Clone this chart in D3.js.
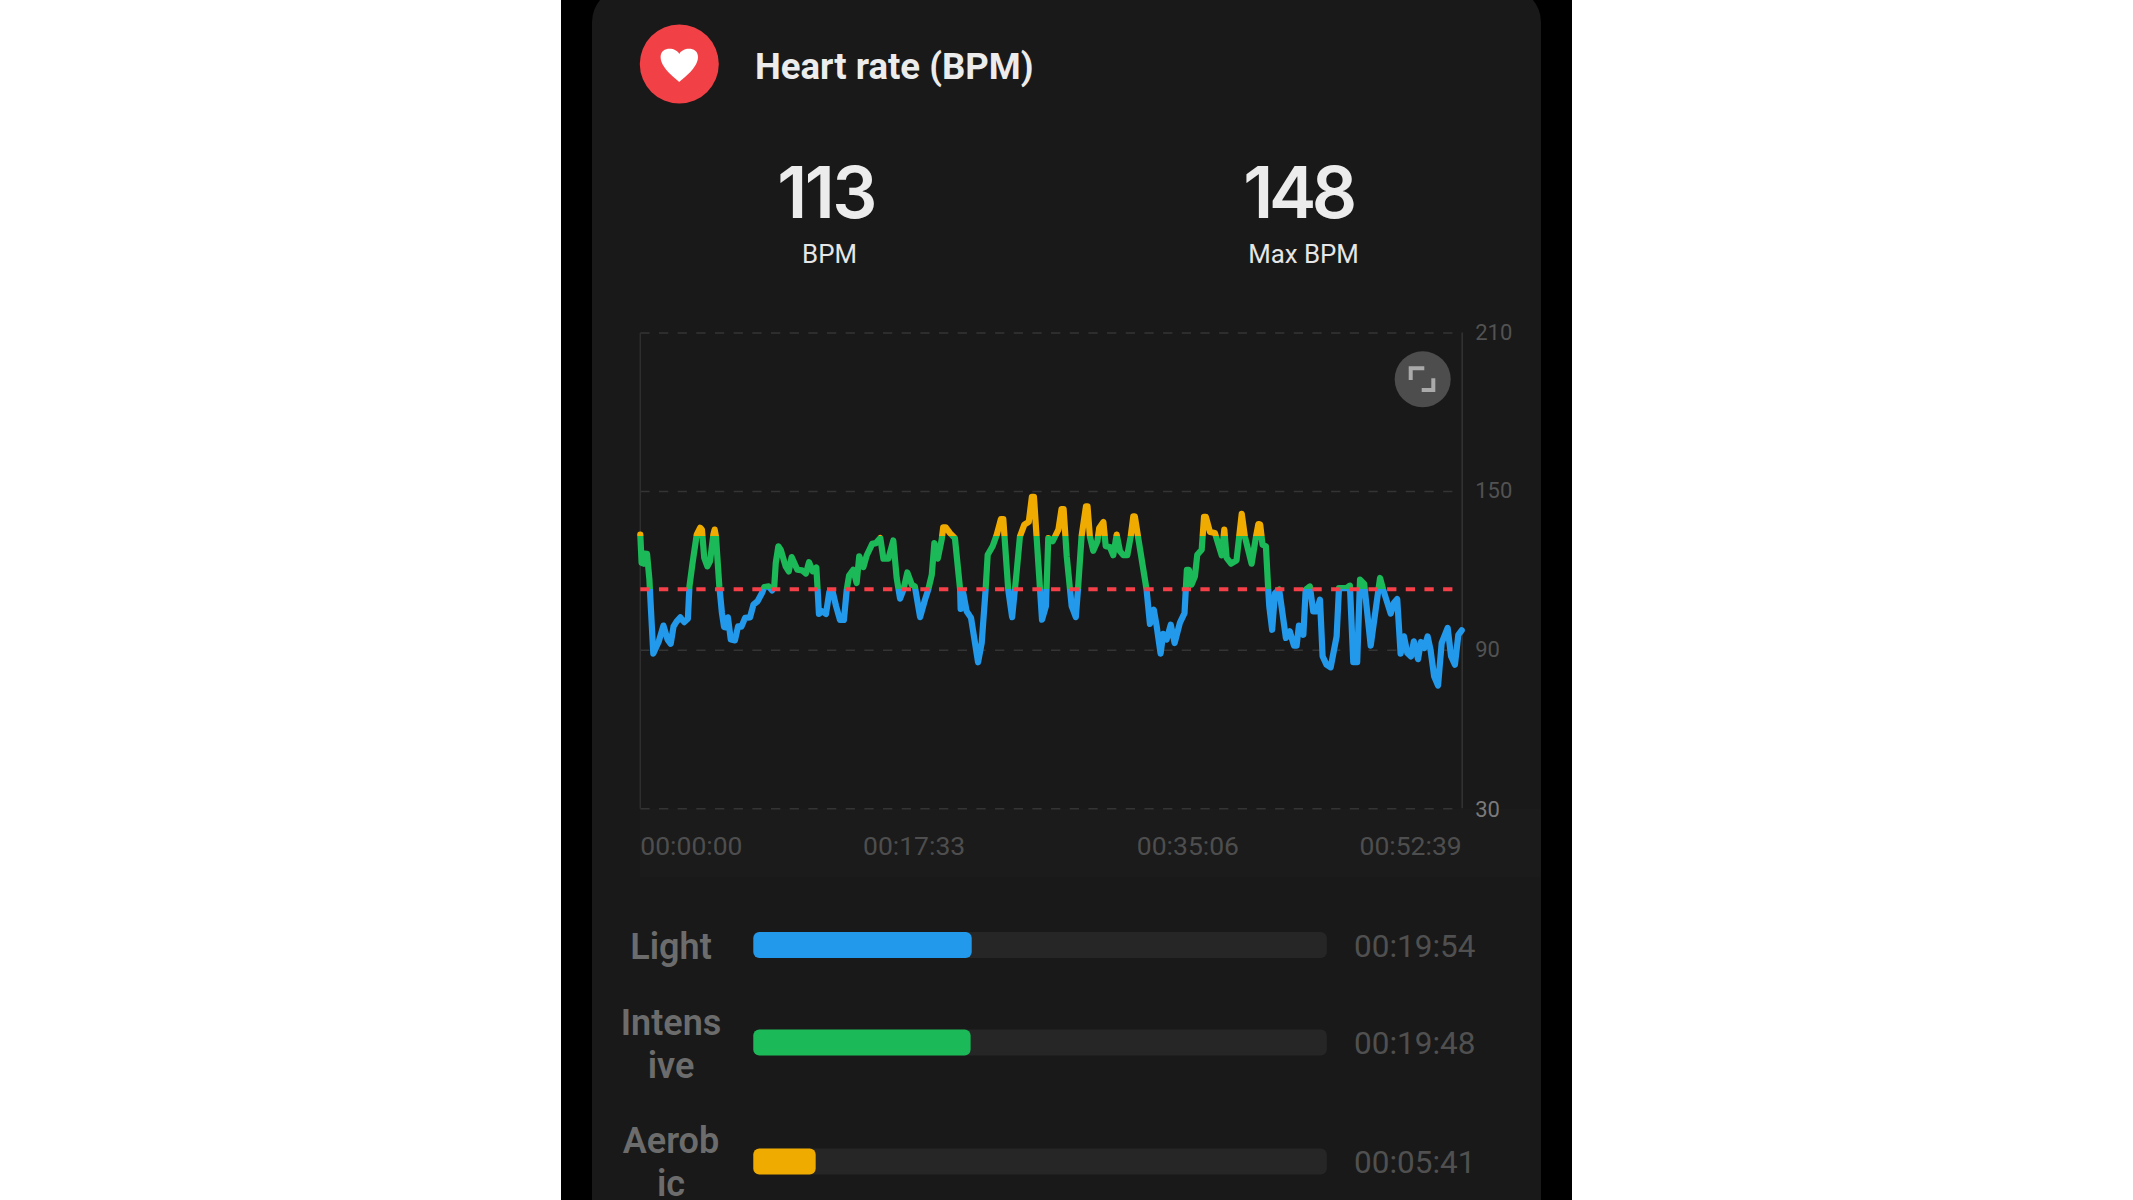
<!DOCTYPE html>
<html>
<head>
<meta charset="utf-8">
<title>Heart rate (BPM)</title>
<script src="https://cdn.jsdelivr.net/npm/d3@7"></script>
<style>
	html, body { margin: 0; padding: 0; background: #fff; }
	svg { display: block; font-family: Roboto, sans-serif; }
</style>
</head>
<body>
<svg id="chart" width="2133" height="1200"></svg>
<script>
// elapsed time of each reading, seconds
var times = [0,5,13,16,26,35,41,50,71,89,105,117,128,140,154,169,183,189,201,217,230,237,246,258,268,281,286,291,304,314,322,330,337,348,364,376,389,403,422,435,451,468,477,494,507,515,521,531,540,559,571,582,604,622,637,649,663,677,682,687,699,714,727,740,753,768,783,
	794,803,819,832,842,858,871,892,906,923,935,954,973,986,999,1012,1027,1044,1056,1076,1095,1108,1121,1131,1144,1159,1165,1174,1191,1210,1230,1232,1242,1255,1272,1299,1313,1328,1336,1355,1371,1387,1396,1415,1430,1447,1460,1477,1494,1506,1514,1524,1545,
	1560,1569,1586,1595,1608,1620,1628,1640,1659,1675,1684,1697,1714,1720,1729,1742,1758,1765,1781,1790,1806,1819,1832,1845,1858,1873,1886,1896,1902,1915,1947,1960,1975,1986,2001,2011,2024,2040,2055,2075,2093,2102,2110,2120,2133,2142,2159,2168,2175,2191,2210,2236,2246,2255,2272,2293,2313,
	2325,2351,2368,2377,2384,2393,2406,2415,2419,2430,2441,2457,2483,2498,2514,2524,2533,2550,2559,2575,2588,2601,2614,2624,2639,2655,2678,2687,2716,2729,2742,2757,2768,2784,2809,2845,2857,2886,2898,2911,2924,2937,2950,2964,2975,2991,3002,3015,3028,3039,3053,3068,3082,3105,3118,3133,3146,3159];

// bpm
var bpm = [133.7,123,122.7,126.5,126.4,116.7,105.3,88.7,93.3,99.3,94,92.4,99,100.9,102.4,100.6,101.9,114.1,123,133.7,136.3,135.6,124.9,121.7,123.6,133.7,135.6,133,114.1,104,98.8,98.6,102.4,94,93.7,99,98.9,102.2,102.4,107.2,108.5,111.6,113.9,114.1,112.6,113.9,123,129.3,128,121.7,119.8,125.2,120.4,120.2,119,123.3,119.8,121.3,112.9,103.7,104.7,103.7,112,112,106.6,101.4,101.4,
	112.9,118.2,120.4,115.4,125.5,121.4,125.9,130.2,130.5,132.4,124.6,124.6,131.5,117.3,109.5,112.9,119.4,114.8,114.1,102.5,109.1,113.1,118.5,130.5,124.6,131.8,136.5,136.5,134.3,132.4,112.9,105.6,111.6,104.7,102.2,85.4,92.7,112.9,126.1,129.3,133.7,139.6,139.6,112.9,102.5,119.2,133,137.5,138.5,148,148,133,101.5,
	106.6,132.4,131.2,133,135.6,143.4,143.4,125.5,106.6,102.5,114.1,133,144.4,144.4,133,127.6,131.2,136.2,138.5,129.3,129,125.9,133.7,127.4,125.9,125.9,133,140.6,140.6,132.4,112.9,99.9,105.3,99,88.7,96.2,94,99.6,92.7,100.3,104,120.4,120.4,114.8,117.9,126.1,128,140.4,140.4,134.7,134.3,125.9,135.6,124.9,122.7,124,141.6,
	133,122.7,133,137.7,137.5,129.9,129.3,112.9,106.6,97.7,111.6,112.9,94.6,97.1,91.7,91.7,99.3,95.8,112.9,114.1,104.7,104.7,109.1,87.7,84.5,83.5,95.2,113.5,113.5,114.4,85.5,85.5,116.7,115.1,91.7,117.3,112.9,103.8,107.8,109.3,88.7,95.2,88.9,87.6,93.3,86.6,93.1,90.8,95.2,90.2,80.1,76.6,92.7,98.4,87.7,84.5,95.8,97.5];

var yTicks = [30, 90, 150, 210];
var xTicks = [0, 1053, 2106, 3159];
var avgBpm = 113;
var maxBpm = 148;
var zoneLimit = 133;   // line turns yellow above this, blue is below the average

var zoneLabels = [["Light"], ["Intens", "ive"], ["Aerob", "ic"]];
var zoneSeconds = [1194, 1188, 341];
var zoneTimes = ["00:19:54", "00:19:48", "00:05:41"];

var BLUE = "#2299ea", GREEN = "#1bb957", YELLOW = "#f0ab00", RED = "#f5404a";

var svg = d3.select("#chart");

// phone frame + card
svg.append("rect").attr("x", 561).attr("y", 0).attr("width", 1011).attr("height", 1200).attr("fill", "#000");
svg.append("rect").attr("x", 592).attr("y", -12).attr("width", 949).attr("height", 1300).attr("rx", 34).attr("fill", "#191919");
svg.append("rect").attr("x", 640).attr("y", 809).attr("width", 901).attr("height", 68).attr("fill", "#1b1b1b");

// header
svg.append("circle").attr("cx", 679.3).attr("cy", 64).attr("r", 39.5).attr("fill", "#f24146");
svg.append("path")
	.attr("transform", "translate(679.3,50)")
	.attr("d", "M0,32 C-4,28 -18.7,18 -18.7,7 C-18.7,-4 -3,-3 0,4 C3,-3 18.7,-4 18.7,7 C18.7,18 4,28 0,32 Z")
	.attr("fill", "#fff");
svg.append("text").attr("x", 755).attr("y", 79).attr("font-size", 36.5).attr("font-weight", 700).attr("fill", "#ececec").text("Heart rate (BPM)");

// summary numbers
function stat(cx, value, spacing, label, labelCx) {
	svg.append("text").attr("x", cx).attr("y", 218).attr("text-anchor", "middle")
		.attr("font-family", "Inter, Roboto, sans-serif").attr("letter-spacing", spacing)
		.attr("font-size", 71).attr("font-weight", 600).attr("fill", "#ececec").text(value);
	svg.append("text").attr("x", labelCx).attr("y", 262.5).attr("text-anchor", "middle")
		.attr("font-size", 25.8).attr("fill", "#e6e6e6").text(label);
}
stat(826, avgBpm, -2.5, "BPM", 829.5);
stat(1298, maxBpm, -4.5, "Max BPM", 1303.5);

// chart
var x = d3.scaleLinear().domain([0, 3159]).range([640.3, 1461.7]);
var y = d3.scaleLinear().domain([30, 210]).range([808.7, 333]);

function clock(s) {
	var h = Math.floor(s / 3600), m = Math.floor(s / 60) % 60, sec = s % 60;
	return [h, m, sec].map(d3.format("02d")).join(":");
}

svg.append("g").selectAll("line").data(yTicks).join("line")
	.attr("x1", x(0)).attr("x2", 1454)
	.attr("y1", function(d) { return y(d); }).attr("y2", function(d) { return y(d); })
	.attr("stroke", "#343434").attr("stroke-width", 1.5).attr("stroke-dasharray", "9.3 9.37");

svg.append("line").attr("x1", x(0)).attr("x2", x(0)).attr("y1", y(210)).attr("y2", y(30))
	.attr("stroke", "#2e2e2e").attr("stroke-width", 1.5);

var yAxis = svg.append("g").attr("transform", "translate(" + x(3159) + ",-1)")
	.call(d3.axisRight(y).tickValues(yTicks).tickSize(0).tickPadding(13.5));
yAxis.select(".domain").attr("stroke", "#333").attr("stroke-width", 1.5);
yAxis.selectAll("text").attr("font-family", "Roboto, sans-serif").attr("font-size", 22)
	.attr("dy", function(d) { return d == 30 ? "0.38em" : "0.32em"; })
	.attr("fill", function(d) { return d == 30 ? "#7a7a7a" : "#525252"; });

var xAxis = svg.append("g").attr("transform", "translate(-0.5,836)")
	.call(d3.axisBottom(x).tickValues(xTicks).tickFormat(clock).tickSize(0).tickPadding(0));
xAxis.select(".domain").remove();
xAxis.selectAll("text").attr("font-family", "Roboto, sans-serif").attr("font-size", 26.5).attr("fill", "#4e4e4e")
	.attr("text-anchor", function(d, i) { return i == 0 ? "start" : (i == xTicks.length - 1 ? "end" : "middle"); });

// line colour follows the heart rate zone
var defs = svg.append("defs");
var grad = defs.append("linearGradient").attr("id", "zones")
	.attr("gradientUnits", "userSpaceOnUse")
	.attr("x1", 0).attr("x2", 0).attr("y1", y(210)).attr("y2", y(30));
var stop1 = (210 - zoneLimit) / 180, stop2 = (210 - avgBpm) / 180;
[[0, YELLOW], [stop1, YELLOW], [stop1, GREEN], [stop2, GREEN], [stop2, BLUE], [1, BLUE]].forEach(function(s) {
	grad.append("stop").attr("offset", s[0]).attr("stop-color", s[1]);
});

var line = d3.line()
	.x(function(d) { return x(d); })
	.y(function(d, i) { return y(bpm[i]); });

svg.append("path").attr("d", line(times))
	.attr("fill", "none").attr("stroke", "url(#zones)").attr("stroke-width", 6.2)
	.attr("stroke-linejoin", "round").attr("stroke-linecap", "round");

svg.append("line").attr("x1", x(0)).attr("x2", 1454).attr("y1", y(avgBpm)).attr("y2", y(avgBpm))
	.attr("stroke", RED).attr("stroke-width", 4).attr("stroke-dasharray", "9.3 9.37");

// fullscreen button
svg.append("circle").attr("cx", 1422.7).attr("cy", 379.3).attr("r", 28).attr("fill", "#4d4d4d");
svg.append("path")
	.attr("d", "M1410.7,380V368.3H1424.3M1421.7,390H1433.3V378.3")
	.attr("fill", "none").attr("stroke", "#aaa").attr("stroke-width", 4);

// zone bars
var barX = d3.scaleLinear().domain([0, 3135]).range([753.3, 1326.8]);
var barTop = [932, 1029.5, 1148.5];
var labelBase = [[959], [1035, 1078], [1153, 1196]];
var timeBase = [957, 1054, 1173];
var barColors = [BLUE, GREEN, YELLOW];

svg.append("g").selectAll("rect").data(zoneSeconds).join("rect")
	.attr("x", barX(0)).attr("y", function(d, i) { return barTop[i]; })
	.attr("width", barX(3135) - barX(0)).attr("height", 26).attr("rx", 6).attr("fill", "#262626");

svg.append("g").selectAll("rect").data(zoneSeconds).join("rect")
	.attr("x", barX(0)).attr("y", function(d, i) { return barTop[i]; })
	.attr("width", function(d) { return barX(d) - barX(0); }).attr("height", 26).attr("rx", 6)
	.attr("fill", function(d, i) { return barColors[i]; });

zoneLabels.forEach(function(lines, i) {
	lines.forEach(function(t, j) {
		svg.append("text").attr("x", 671).attr("y", labelBase[i][j]).attr("text-anchor", "middle")
			.attr("font-size", 36).attr("font-weight", 600).attr("fill", "#6c6c6c").text(t);
	});
	svg.append("text").attr("x", 1354).attr("y", timeBase[i])
		.attr("font-size", 31.5).attr("fill", "#505050").text(zoneTimes[i]);
});
</script>
</body>
</html>
